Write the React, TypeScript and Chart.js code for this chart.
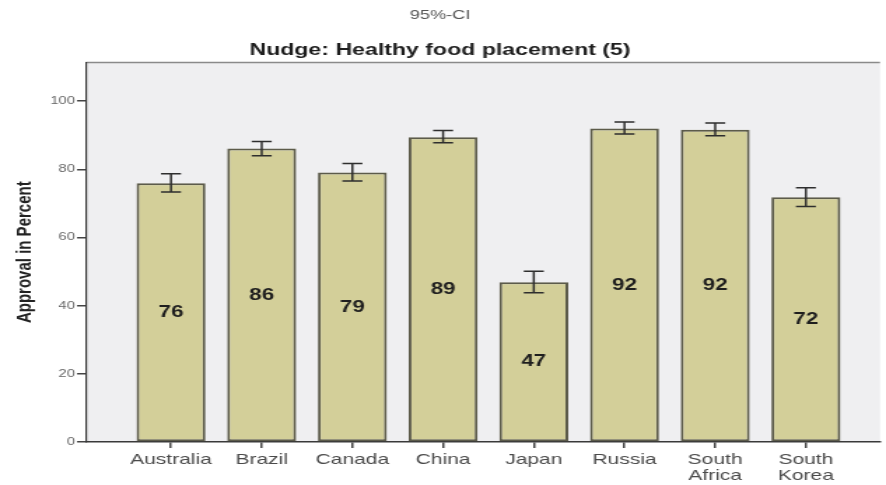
import React, { useEffect, useRef } from "react";
import { Chart, registerables } from "chart.js";

Chart.register(...registerables);

const countries: (string | string[])[] = [
  "Australia",
  "Brazil",
  "Canada",
  "China",
  "Japan",
  "Russia",
  ["South", "Africa"],
  ["South", "Korea"],
];
const approval = [75.9, 86.1, 79.1, 89.4, 46.9, 92.0, 91.6, 71.8];
const ciLow = [73.4, 84.0, 76.6, 87.8, 43.8, 90.4, 89.9, 69.1];
const ciHigh = [78.7, 88.2, 81.7, 91.4, 50.1, 93.9, 93.6, 74.6];
const valueLabels = ["76", "86", "79", "89", "47", "92", "92", "72"];
const yTicks = [0, 20, 40, 60, 80, 100];

const FONT = "'Liberation Sans', Arial, sans-serif";
// the reference is a horizontally stretched export; draw narrow, then stretch
const CANVAS_W = 633;
const STRETCH = 886 / CANVAS_W;

const bgPlugin = {
  id: "plotBg",
  beforeDraw(chart: any) {
    const { ctx, chartArea } = chart;
    ctx.save();
    ctx.fillStyle = "#efeff1";
    ctx.fillRect(chartArea.left, chartArea.top, chartArea.right - chartArea.left, chartArea.bottom - chartArea.top);
    ctx.strokeStyle = "#8a8a8a";
    ctx.lineWidth = 1.5;
    ctx.beginPath();
    ctx.moveTo(chartArea.left, chartArea.top);
    ctx.lineTo(chartArea.right, chartArea.top);
    ctx.stroke();
    ctx.restore();
  },
};

const errorPlugin = {
  id: "errorBars",
  afterDatasetsDraw(chart: any) {
    const { ctx } = chart;
    const meta = chart.getDatasetMeta(0);
    const y = chart.scales.y;
    const cap = 10 / STRETCH;
    ctx.save();
    ctx.strokeStyle = "#2e2e2e";
    ctx.lineWidth = 1.5;
    meta.data.forEach((bar: any, i: number) => {
      const x = bar.x;
      const yl = y.getPixelForValue(ciLow[i]);
      const yh = y.getPixelForValue(ciHigh[i]);
      ctx.beginPath();
      ctx.moveTo(x, yl);
      ctx.lineTo(x, yh);
      ctx.moveTo(x - cap, yl);
      ctx.lineTo(x + cap, yl);
      ctx.moveTo(x - cap, yh);
      ctx.lineTo(x + cap, yh);
      ctx.stroke();
      ctx.fillStyle = "#1e1e1e";
      ctx.font = `bold 16px ${FONT}`;
      ctx.textAlign = "center";
      ctx.textBaseline = "middle";
      ctx.fillText(valueLabels[i], x, y.getPixelForValue(approval[i] / 2));
    });
    ctx.restore();
  },
};

export default function App() {
  const ref = useRef<HTMLCanvasElement | null>(null);
  useEffect(() => {
    document.body.style.margin = "0";
    if (!ref.current) return;
    const chart = new Chart(ref.current, {
      type: "bar",
      data: {
        datasets: [
          {
            data: approval.map((v, i) => ({ x: i, y: v })),
            backgroundColor: "#d3cf99",
            borderColor: "#5c5b4a",
            borderWidth: 2,
            borderSkipped: false,
            barPercentage: 0.76,
            categoryPercentage: 1,
          },
        ],
      },
      options: {
        animation: false,
        responsive: false,
        layout: { padding: { left: 0, right: CANVAS_W - 880 / STRETCH, top: 0, bottom: 0 } },
        plugins: {
          legend: { display: false },
          tooltip: { enabled: false },
          title: {
            display: true,
            text: "95%-CI",
            color: "#555",
            font: { family: FONT, size: 13, weight: "normal" },
            padding: { top: 8, bottom: 17 },
          },
          subtitle: {
            display: true,
            text: "Nudge: Healthy food placement (5)",
            color: "#1e1e1e",
            font: { family: FONT, size: 16.5, weight: "bold" },
            padding: { top: 0, bottom: 2 },
          },
        },
        scales: {
          x: {
            type: "linear",
            min: -0.937,
            max: 7.817,
            offset: false,
            afterBuildTicks(scale: any) {
              scale.ticks = countries.map((_, i) => ({ value: i }));
            },
            afterFit(scale: any) {
              scale.height = 43;
            },
            ticks: {
              autoSkip: false,
              maxRotation: 0,
              color: "#4a4a4a",
              font: { family: FONT, size: 15, lineHeight: 1.08 },
              padding: 4,
              callback: (v: any) => countries[Math.round(Number(v))] ?? "",
            },
            grid: {
              display: true,
              offset: false,
              drawOnChartArea: false,
              drawTicks: true,
              tickLength: 6,
              color: "#444",
              lineWidth: 1.5,
            },
            border: { display: true, color: "#3a3a3a", width: 1.5 },
          },
          y: {
            min: 0,
            max: 111.4,
            afterBuildTicks(scale: any) {
              scale.ticks = yTicks.map((v) => ({ value: v }));
            },
            afterFit(scale: any) {
              scale.width = 86 / STRETCH;
            },
            ticks: {
              color: "#666",
              font: { family: FONT, size: 10.5 },
              padding: 1.5,
              callback: (v: any) => String(v),
            },
            grid: {
              display: true,
              drawOnChartArea: false,
              drawTicks: true,
              tickLength: 9 / STRETCH,
              color: "#444",
              lineWidth: 1.5,
            },
            border: { display: true, color: "#3a3a3a", width: 1.2 },
            title: {
              display: true,
              text: "Approval in Percent",
              color: "#222",
              font: { family: FONT, size: 15, weight: "bold" },
              padding: { top: 9, bottom: 0 },
            },
          },
        },
      },
      plugins: [bgPlugin, errorPlugin],
    });
    return () => chart.destroy();
  }, []);
  return (
    <div style={{ width: 886, height: 485, overflow: "hidden" }}>
      <div
        style={{
          width: CANVAS_W,
          height: 485,
          transform: `scaleX(${STRETCH})`,
          transformOrigin: "0 0",
        }}
      >
        <canvas ref={ref} width={CANVAS_W} height={485} />
      </div>
    </div>
  );
}
